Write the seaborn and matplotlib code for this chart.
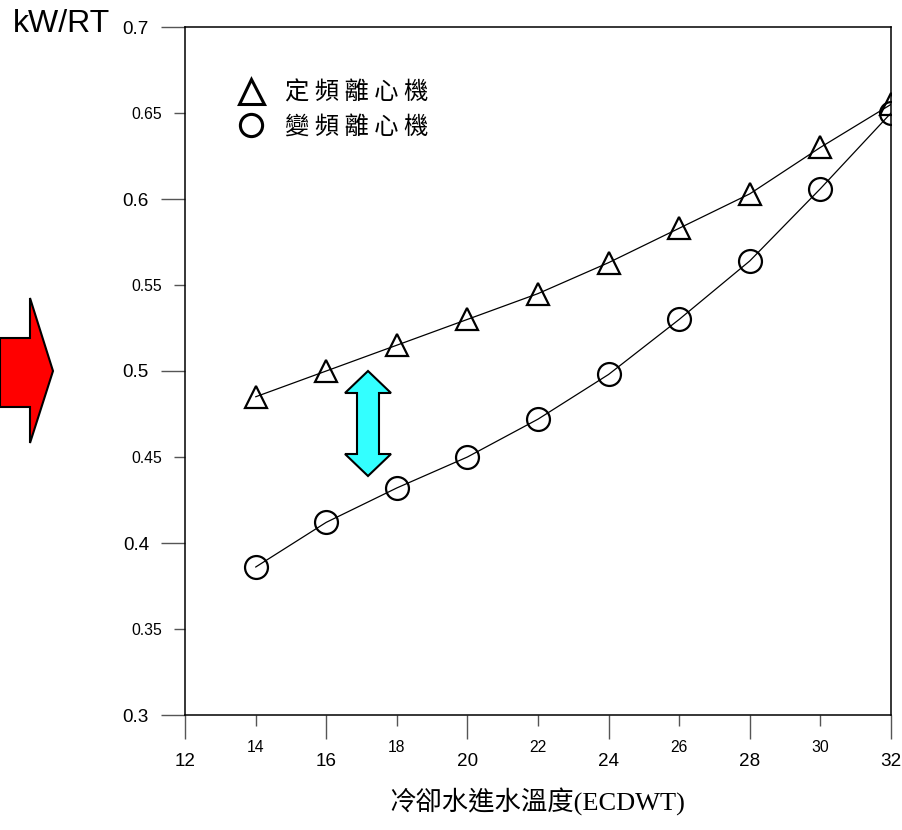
import numpy as np
import pandas as pd
import matplotlib
matplotlib.use('Agg')
import matplotlib.pyplot as plt
from matplotlib.patches import Polygon
from matplotlib.lines import Line2D
from matplotlib.ticker import MultipleLocator, FormatStrFormatter, FuncFormatter
import seaborn as sns

# Data
temps = [14, 16, 18, 20, 22, 24, 26, 28, 30, 32]
fixed_speed = [0.485, 0.500, 0.515, 0.530, 0.545, 0.563, 0.583, 0.603, 0.630, 0.655]
variable_speed = [0.386, 0.412, 0.432, 0.450, 0.472, 0.498, 0.530, 0.564, 0.606, 0.650]
series_names = ['定頻離心機', '變頻離心機']

df = pd.DataFrame({
    'temp': temps * 2,
    'kw': fixed_speed + variable_speed,
    'series': [series_names[0]] * len(temps) + [series_names[1]] * len(temps),
})

sns.set_style('white')
plt.rcParams['font.family'] = ['Liberation Sans', 'Noto Sans CJK TC']
plt.rcParams['text.color'] = 'black'

W, H = 902, 830
fig = plt.figure(figsize=(W / 100, H / 100), dpi=100)
ax = fig.add_axes([185 / W, 1 - 715 / H, (891 - 185) / W, (715 - 27) / H])

markers = {series_names[0]: '^', series_names[1]: 'o'}
sizes = {series_names[0]: 16, series_names[1]: 16.5}
for name in series_names:
    sub = df[df['series'] == name]
    sns.lineplot(data=sub, x='temp', y='kw', ax=ax, color='black', lw=0.9,
                 marker=markers[name], markersize=sizes[name], mfc='none',
                 mec='black', mew=1.6, legend=False)

ax.set_xlim(12, 32)
ax.set_ylim(0.3, 0.7)
ax.xaxis.set_major_locator(MultipleLocator(4))
ax.xaxis.set_minor_locator(MultipleLocator(2))
ax.yaxis.set_major_locator(MultipleLocator(0.1))
ax.yaxis.set_minor_locator(MultipleLocator(0.05))
ax.xaxis.set_major_formatter(FormatStrFormatter('%d'))
ax.xaxis.set_minor_formatter(FormatStrFormatter('%d'))
ax.yaxis.set_major_formatter(FormatStrFormatter('%g'))
ax.yaxis.set_minor_formatter(FuncFormatter(
    lambda v, p: '' if abs(round(v * 10) - v * 10) < 1e-6 else f'{v:g}'))

ax.tick_params(which='major', direction='out', length=17, width=1, color='#555555',
               labelsize=13.6, labelcolor='black', bottom=True, left=True)
ax.tick_params(which='minor', direction='out', length=8, width=1, color='#555555',
               labelsize=11.3, labelcolor='black', bottom=True, left=True)
ax.tick_params(axis='x', which='major', pad=10)
ax.tick_params(axis='x', which='minor', pad=10)
ax.tick_params(axis='y', which='major', pad=9)
ax.tick_params(axis='y', which='minor', pad=8.5)
for s in ax.spines.values():
    s.set_color('black')
    s.set_linewidth(1.1)
ax.grid(False)
ax.set_xlabel('')
ax.set_ylabel('')

# legend
handles = [Line2D([], [], ls='none', marker='^', ms=18, mfc='none', mec='black', mew=2.2),
           Line2D([], [], ls='none', marker='o', ms=16, mfc='none', mec='black', mew=2.2)]
legend_labels = [' '.join(n) for n in series_names]
ax.legend(handles, legend_labels, loc='upper left', bbox_to_anchor=(0.04, 0.955),
          frameon=False, handlelength=1.3, handletextpad=0.75, labelspacing=0.3,
          prop={'family': ['Noto Sans CJK TC'], 'size': 17.5})

# y unit label and x label
fig.text(13 / W, 1 - 24 / H, 'kW/RT', fontsize=23, ha='left', va='center',
         family=['Liberation Sans'])
fig.text(537 / W, 1 - 802 / H, '冷卻水進水溫度(ECDWT)', fontsize=19, ha='center',
         va='center', family=['Liberation Serif', 'Noto Sans CJK TC'])

# red arrow on the left
red_pts = [(0, 338), (30, 338), (30, 298), (53, 371), (30, 443), (30, 407), (0, 407)]
fig.patches.append(Polygon([(x / W, 1 - y / H) for x, y in red_pts], closed=True,
                           transform=fig.transFigure, facecolor='#ff0000',
                           edgecolor='black', lw=1.5))

# cyan double arrow between curves
cy_pts = [(368, 371), (391, 393), (379, 393), (379, 454), (391, 454), (368, 476),
          (345, 454), (357, 454), (357, 393), (345, 393)]
fig.patches.append(Polygon([(x / W, 1 - y / H) for x, y in cy_pts], closed=True,
                           transform=fig.transFigure, facecolor='#33ffff',
                           edgecolor='black', lw=1.5))

fig.savefig('out.png', dpi=100)
